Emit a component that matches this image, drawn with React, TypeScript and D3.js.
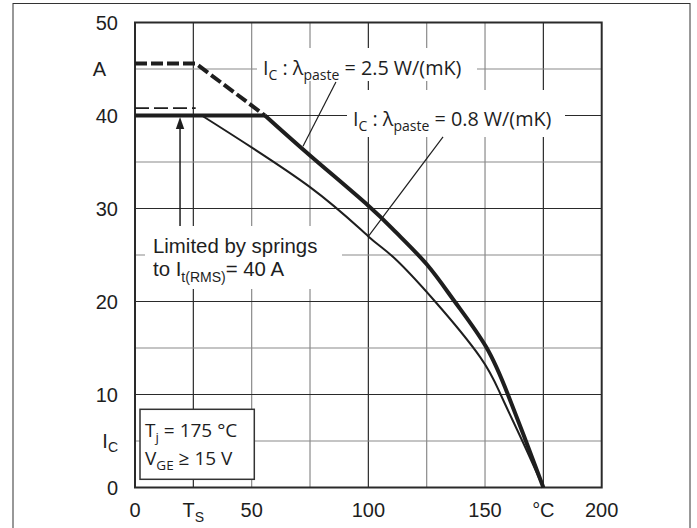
import React from "react";
import * as d3 from "d3";

// Axis ticks
const xTicks = [0, 50, 100, 150, 200];
const yTicks = [0, 10, 20, 30, 40, 50];
const xGrid = [25, 50, 75, 100, 125, 150, 175];
const xGridDark = [25, 100, 175];
const yGrid = [5, 10, 15, 20, 25, 30, 35, 40, 45];

// I_C vs T_S, λpaste = 2.5 W/(mK)
const tempHigh = [0, 55.7, 75, 100, 112, 125, 137, 150.5, 159.8, 167.5, 175];
const icHigh = [40, 40, 35.7, 30.3, 27.4, 24.0, 20, 15.1, 10, 5, 0];
// unlimited part above the spring limit
const tempHighDash = [0, 26, 55.7];
const icHighDash = [45.6, 45.6, 40];

// I_C vs T_S, λpaste = 0.8 W/(mK)
const tempLow = [0, 28.6, 75, 100, 111, 128.6, 148, 156.7, 166, 175];
const icLow = [40, 40, 32.3, 27.0, 24.7, 20, 14, 10, 5, 0];
const tempLowDash = [0, 26];
const icLowDash = [40.8, 40.8];

const W = 697;
const H = 528;
const ARIAL = "'Liberation Sans', Arial, sans-serif";
const HUMAN = "'Open Sans', 'Noto Sans', sans-serif";
const INK = "#1e1e1e";

type Pt = [number, number];
const zip = (xs: number[], ys: number[]): Pt[] => xs.map((v, i) => [v, ys[i]]);

export default function App() {
  const x = d3.scaleLinear().domain([0, 200]).range([135, 601.7]);
  const y = d3.scaleLinear().domain([0, 50]).range([487.5, 22.5]);

  const lin = d3
    .line<Pt>()
    .x((d) => x(d[0]))
    .y((d) => y(d[1]));
  const smooth = d3
    .line<Pt>()
    .x((d) => x(d[0]))
    .y((d) => y(d[1]))
    .curve(d3.curveNatural);

  const high = zip(tempHigh, icHigh);
  const low = zip(tempLow, icLow);

  const arrowX = x(19.3);

  return (
    <svg
      width={W}
      height={H}
      style={{ position: "absolute", left: 0, top: 0, display: "block", background: "#fff" }}
    >
      {/* outer frame */}
      <rect x={13} y={3.5} width={677} height={560} fill="none" stroke="#333" strokeWidth={1} />

      {/* grid */}
      {xGrid.map((v) => (
        <line
          key={"gx" + v}
          x1={x(v)}
          x2={x(v)}
          y1={y(0)}
          y2={y(50)}
          stroke={xGridDark.includes(v) ? "#2a2a2a" : "#8a8a8a"}
          strokeWidth={1.2}
        />
      ))}
      {yGrid.map((v) => (
        <line
          key={"gy" + v}
          x1={x(0)}
          x2={x(200)}
          y1={y(v)}
          y2={y(v)}
          stroke={v % 10 === 0 ? "#2a2a2a" : "#8a8a8a"}
          strokeWidth={1.2}
        />
      ))}

      {/* white label backgrounds */}
      <rect x={257} y={48} width={220} height={33} fill="#fff" />
      <rect x={347} y={90} width={218} height={47} fill="#fff" />
      <rect x={145} y={226} width={197} height={63} fill="#fff" />

      {/* plot frame */}
      <rect
        x={x(0)}
        y={y(50)}
        width={x(200) - x(0)}
        height={y(0) - y(50)}
        fill="none"
        stroke="#2a2a2a"
        strokeWidth={2}
      />

      {/* curves */}
      <path d={lin(zip(tempLowDash, icLowDash)) || ""} fill="none" stroke={INK} strokeWidth={1.8} strokeDasharray="14 5" />
      <path d={lin(zip(tempHighDash, icHighDash)) || ""} fill="none" stroke={INK} strokeWidth={4} strokeDasharray="12 4" />
      <path d={lin(low.slice(0, 2)) || ""} fill="none" stroke={INK} strokeWidth={2} />
      <path d={smooth(low.slice(1)) || ""} fill="none" stroke={INK} strokeWidth={2} />
      <path d={lin(high.slice(0, 2)) || ""} fill="none" stroke={INK} strokeWidth={4} />
      <path d={smooth(high.slice(1)) || ""} fill="none" stroke={INK} strokeWidth={4} />

      {/* leader lines */}
      <line x1={x(86.1)} y1={y(43.6)} x2={x(72.0)} y2={y(36.7)} stroke={INK} strokeWidth={1.2} />
      <line x1={x(132)} y1={y(37.7)} x2={x(100)} y2={y(27.0)} stroke={INK} strokeWidth={1.2} />

      {/* spring limit arrow */}
      <line x1={arrowX} x2={arrowX} y1={226} y2={126} stroke={INK} strokeWidth={1.5} />
      <path d={`M${arrowX},117 L${arrowX - 4.2},129 L${arrowX + 4.2},129 Z`} fill={INK} />

      {/* curve labels */}
      <text x={263} y={75} fontFamily={HUMAN} fontSize={19.8} fill={INK}>
        I<tspan fontSize={14} dy={5}>C</tspan>
        <tspan dy={-5}> : λ</tspan>
        <tspan fontSize={14} dy={5}>paste</tspan>
        <tspan dy={-5}> = 2.5 W/(mK)</tspan>
      </text>
      <text x={353} y={126} fontFamily={HUMAN} fontSize={19.8} fill={INK}>
        I<tspan fontSize={14} dy={5}>C</tspan>
        <tspan dy={-5}> : λ</tspan>
        <tspan fontSize={14} dy={5}>paste</tspan>
        <tspan dy={-5}> = 0.8 W/(mK)</tspan>
      </text>

      {/* spring limit note */}
      <text x={153} y={253} fontFamily={ARIAL} fontSize={20.4} fill={INK}>
        Limited by springs
      </text>
      <text x={153} y={276} fontFamily={ARIAL} fontSize={20.4} fill={INK}>
        to I<tspan fontSize={14} dy={6}>t(RMS)</tspan>
        <tspan dy={-6}>= 40 A</tspan>
      </text>

      {/* conditions box */}
      <rect x={140} y={409.3} width={114.3} height={70} fill="#fff" stroke="#333" strokeWidth={1.5} />
      <text x={145} y={437} fontFamily={HUMAN} fontSize={19} fill={INK}>
        T<tspan fontSize={13.5} dy={5}>j</tspan>
        <tspan dy={-5}> = 175 °C</tspan>
      </text>
      <text x={145} y={465} fontFamily={HUMAN} fontSize={19} fill={INK}>
        V<tspan fontSize={13.5} dy={5}>GE</tspan>
        <tspan dy={-5}> ≥ 15 V</tspan>
      </text>

      {/* y tick labels */}
      {yTicks.map((v) => (
        <text key={"yt" + v} x={118} y={y(v)} dy="0.36em" textAnchor="end" fontFamily={ARIAL} fontSize={20} fill={INK}>
          {v}
        </text>
      ))}
      <text x={106} y={y(45)} dy="0.36em" textAnchor="end" fontFamily={ARIAL} fontSize={20} fill={INK}>
        A
      </text>
      <text x={118} y={y(5)} dy="0.36em" textAnchor="end" fontFamily={ARIAL} fontSize={20} fill={INK}>
        I<tspan fontSize={14} dy={4}>C</tspan>
      </text>

      {/* x tick labels */}
      {xTicks.map((v) => (
        <text key={"xt" + v} x={x(v)} y={517} textAnchor="middle" fontFamily={ARIAL} fontSize={20} fill={INK}>
          {v}
        </text>
      ))}
      <text x={x(25)} y={517} textAnchor="middle" fontFamily={ARIAL} fontSize={20} fill={INK}>
        T<tspan fontSize={14} dy={5}>S</tspan>
      </text>
      <text x={x(175)} y={517} textAnchor="middle" fontFamily={ARIAL} fontSize={20} fill={INK}>
        °C
      </text>
    </svg>
  );
}
